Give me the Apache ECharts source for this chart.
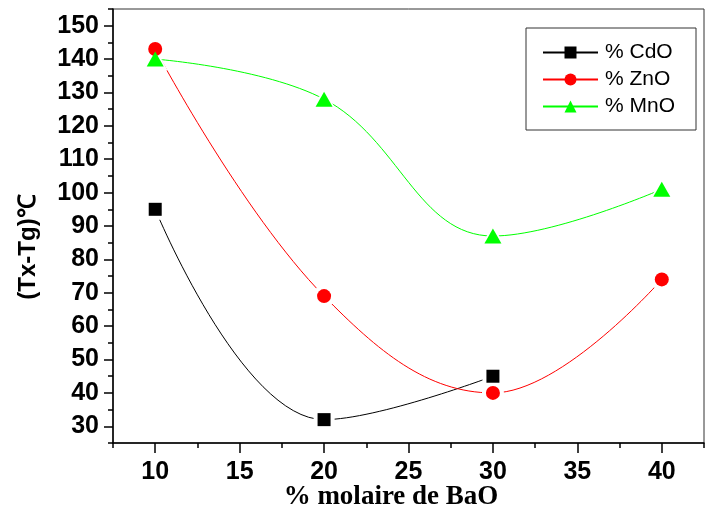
<!DOCTYPE html>
<html>
<head>
<meta charset="utf-8">
<script src="https://cdn.jsdelivr.net/npm/echarts@6/dist/echarts.min.js"></script>
<style>
  html, body { margin: 0; padding: 0; background: #ffffff; }
  #chart { width: 708px; height: 511px; }
</style>
</head>
<body>
<div id="chart"></div>
<script>
// Crystallisation stability window (Tx - Tg) versus BaO content
const cdoBaO = [10, 20, 30];
const cdoWindow = [95, 32, 45];
const znoBaO = [10, 20, 30, 40];
const znoWindow = [143, 69, 40, 74];
const mnoBaO = [10, 20, 30, 40];
const mnoWindow = [140, 128, 87, 101];

const xMajorTicks = [10, 15, 20, 25, 30, 35, 40];
const xMinorTicks = [7.5, 12.5, 17.5, 22.5, 27.5, 32.5, 37.5, 42.5];
const yMajorTicks = [30, 40, 50, 60, 70, 80, 90, 100, 110, 120, 130, 140, 150];
const yMinorTicks = [25, 35, 45, 55, 65, 75, 85, 95, 105, 115, 125, 135, 145, 155];

const pairs = (xs, ys) => xs.map((x, i) => [x, ys[i]]);

const tickFont = { fontSize: 25, fontWeight: 'bold', fontFamily: 'Liberation Sans, Arial, sans-serif', color: '#000' };
const axisStroke = { color: '#000', width: 1.5 };

// each curve: smooth line with white masks around the points, then the coloured markers on top
function curve(name, xs, ys, color, symbol, size, mask) {
  return [
    {
      name: name, type: 'line', smooth: 0.4, silent: true,
      data: pairs(xs, ys),
      symbol: symbol, symbolSize: mask, showSymbol: true,
      lineStyle: { color: color, width: 1 },
      itemStyle: { color: '#fff' },
      z: 2
    },
    {
      name: name, type: 'scatter', silent: true,
      data: pairs(xs, ys),
      symbol: symbol, symbolSize: size,
      itemStyle: { color: color, opacity: 1 },
      z: 3
    }
  ];
}

const series = [].concat(
  curve('% CdO', cdoBaO, cdoWindow, '#000000', 'rect', 13, 21),
  curve('% ZnO', znoBaO, znoWindow, '#ff0000', 'circle', 14, 22),
  curve('% MnO', mnoBaO, mnoWindow, '#00ff00', 'triangle', [17, 15], [25, 23])
);

const chart = echarts.init(document.getElementById('chart'), null, { renderer: 'canvas' });
chart.setOption({
  animation: false,
  backgroundColor: '#fff',
  grid: {
    left: 113, right: 4, top: 9, bottom: 68,
    show: true, borderColor: '#333', borderWidth: 1,
    containLabel: false, outerBoundsMode: 'none'
  },
  legend: {
    orient: 'vertical', left: 526, top: 28,
    padding: [14, 21, 13, 16],
    itemWidth: 55, itemHeight: 15, itemGap: 6,
    borderColor: '#333', borderWidth: 1,
    selectedMode: false,
    textStyle: { fontSize: 21, fontFamily: 'Liberation Sans, Arial, sans-serif', color: '#000', padding: [0, 0, 0, 2] },
    data: [
      { name: '% CdO', itemStyle: { color: '#000000' } },
      { name: '% ZnO', itemStyle: { color: '#ff0000' } },
      { name: '% MnO', itemStyle: { color: '#00ff00' } }
    ]
  },
  xAxis: [
    {
      type: 'value', min: 7.5, max: 42.5, position: 'bottom',
      axisLine: { show: true, lineStyle: axisStroke },
      axisTick: { show: true, inside: false, length: 10, customValues: xMajorTicks, lineStyle: axisStroke },
      axisLabel: Object.assign({ customValues: xMajorTicks, margin: 17 }, tickFont),
      splitLine: { show: false },
      name: '% molaire de BaO', nameLocation: 'middle', nameGap: 41, nameMoveOverlap: false,
      nameTextStyle: { fontSize: 27, fontWeight: 'bold', fontFamily: 'Liberation Serif, Times New Roman, serif', color: '#000', padding: [0, 35, 0, 0] }
    },
    {
      type: 'value', min: 7.5, max: 42.5, position: 'bottom',
      axisLine: { show: false },
      axisTick: { show: true, inside: false, length: 5, customValues: xMinorTicks, lineStyle: axisStroke },
      axisLabel: { show: false },
      splitLine: { show: false }
    }
  ],
  yAxis: [
    {
      type: 'value', min: 25, max: 155, position: 'left',
      axisLine: { show: true, lineStyle: axisStroke },
      axisTick: { show: true, inside: false, length: 9, customValues: yMajorTicks, lineStyle: axisStroke },
      axisLabel: Object.assign({ customValues: yMajorTicks, margin: 14 }, tickFont),
      splitLine: { show: false },
      name: '(Tx-Tg)℃', nameLocation: 'middle', nameGap: 73,
      nameTextStyle: { fontSize: 24, fontWeight: 'bold', fontFamily: 'Liberation Sans, Arial, sans-serif', color: '#000', padding: [0, 42, 0, 0] }
    },
    {
      type: 'value', min: 25, max: 155, position: 'left',
      axisLine: { show: false },
      axisTick: { show: true, inside: false, length: 5, customValues: yMinorTicks, lineStyle: axisStroke },
      axisLabel: { show: false },
      splitLine: { show: false }
    }
  ],
  series: series
});
</script>
</body>
</html>
